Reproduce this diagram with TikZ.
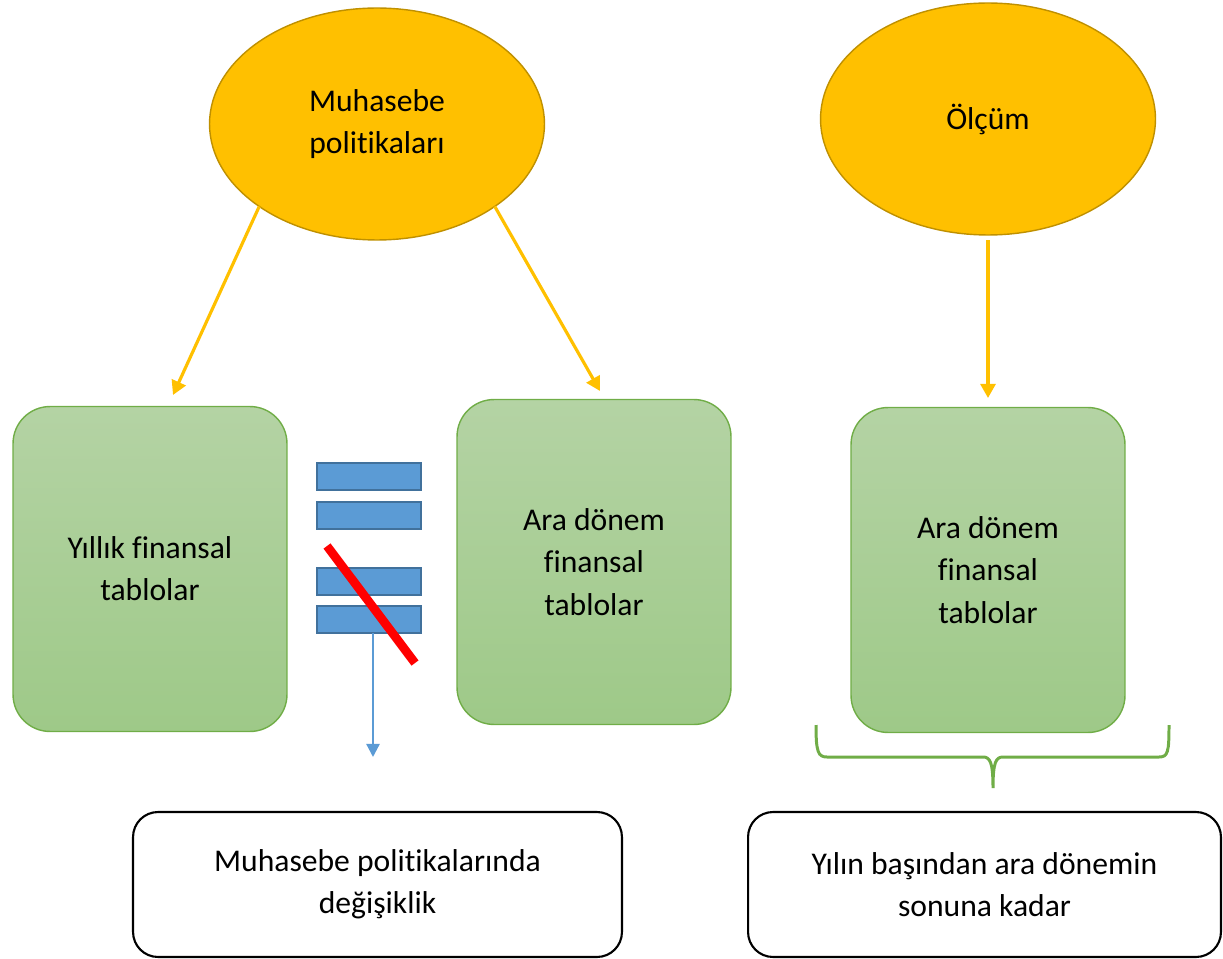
\documentclass[tikz,border=0pt]{standalone}
\usepackage{xcolor}
\usepackage{fontspec}
\setmainfont[Ligatures=NoCommon]{Carlito}
\usepackage{tikz}
\usetikzlibrary{shapes.geometric,arrows.meta,positioning,calc}

\definecolor{polyellow}{HTML}{FFC000}
\definecolor{poledge}{HTML}{BF9000}
\definecolor{boxtop}{HTML}{B4D3A4}
\definecolor{boxbottom}{HTML}{9EC988}
\definecolor{boxedge}{HTML}{70AD47}
\definecolor{barblue}{HTML}{5B9BD5}
\definecolor{baredge}{HTML}{41719C}

\begin{document}
\begin{tikzpicture}[x=0.02cm, y=-0.02cm,
  every node/.style={font=\fontsize{18}{24}\selectfont, align=center, outer sep=0pt},
  oval/.style={ellipse, fill=polyellow, draw=poledge, line width=0.8pt,
    minimum width=6.7cm, minimum height=4.64cm},
  greenbox/.style={rectangle, rounded corners=0.74cm, draw=boxedge, line width=0.8pt,
    top color=boxtop, bottom color=boxbottom, minimum width=5.48cm, minimum height=6.5cm},
  notebox/.style={rectangle, rounded corners=0.5cm, draw=black, line width=1.2pt,
    fill=white, minimum height=2.9cm},
  bar/.style={rectangle, fill=barblue, draw=baredge, line width=1pt,
    minimum width=2.08cm, minimum height=0.54cm},
  yarrow/.style={draw=polyellow, line width=1.8pt, -{Triangle[length=8pt,width=8.5pt]}},
  barrow/.style={draw=barblue, line width=1.3pt, -{Triangle[length=7.5pt,width=7.5pt]}}]
\useasboundingbox (0,0) rectangle (1223,959);

% Ellipses
\node[oval] (pol) at (377,124) {Muhasebe\\politikaları};
\node[oval] (olcum) at (988,119) {Ölçüm};

% Financial statement boxes
\node[greenbox] (yillik) at (150,569) {Yıllık finansal\\tablolar};
\node[greenbox] (ara1) at (594,562) {Ara dönem\\finansal\\tablolar};
\node[greenbox] (ara2) at (988,570) {Ara dönem\\finansal\\tablolar};

% Equals sign with strike
\node[bar] (bar1) at (369,476.5) {};
\node[bar] (bar2) at (369,515.5) {};
\node[bar] (bar3) at (369,581.5) {};
\node[bar] (bar4) at (369,619.5) {};
\draw[red, line width=5pt] (327,546) -- (415,663);

% Bottom notes
\node[notebox, minimum width=9.78cm] (degisiklik) at (377.5,884.5) {Muhasebe politikalarında\\değişiklik};
\node[notebox, minimum width=9.46cm] (donem) at (984.5,884.5) {Yılın başından ara dönemin\\sonuna kadar};

% Free ends
\coordinate (tip1) at (173,395);
\coordinate (tip2) at (600,391);
\coordinate (tip3) at (988,398);
\coordinate (tip4) at (373,757);

% Relationships
\draw[yarrow] (pol.215) -- (tip1);
\draw[yarrow] (pol.325) -- (tip2);
\draw[yarrow, shorten <=3pt] (olcum.south) -- (tip3);
\draw[barrow] (bar4.south -| tip4) -- (tip4);

% Brace
\draw[boxedge, line width=1.7pt]
  (816,725) .. controls (816,752) and (818,757) .. (827,757) -- (983,757)
  .. controls (990,757) and (993,762) .. (993,788)
  .. controls (993,762) and (996,757) .. (1003,757) -- (1159,757)
  .. controls (1168,757) and (1169,752) .. (1169,725);

\end{tikzpicture}
\end{document}
